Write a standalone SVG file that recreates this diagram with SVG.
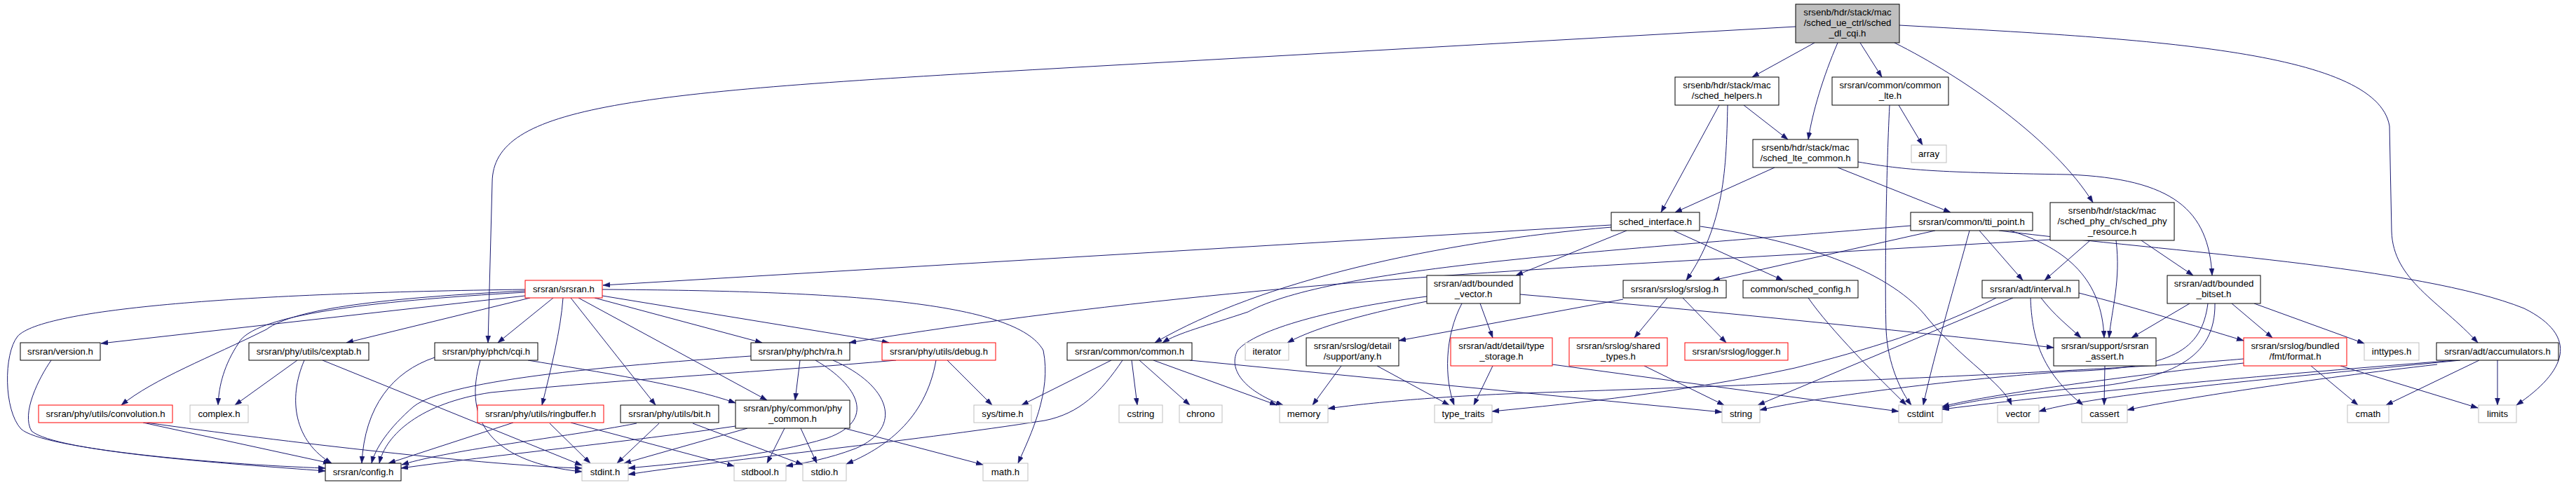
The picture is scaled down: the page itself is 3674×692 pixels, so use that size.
<svg xmlns="http://www.w3.org/2000/svg" width="3674" height="692" viewBox="0 0 3674 692">
<style>
.n rect{fill:#fff;stroke:#000;stroke-width:1}
.n.x rect{stroke:#bfbfbf}
.n.r rect{stroke:#ff0000}
.n.root rect{fill:#bfbfbf}
.n text{font-family:"Liberation Sans",Arial,sans-serif;font-size:13.2px;fill:#000;text-anchor:middle}
#edges path{fill:none;stroke:#191970;stroke-width:1;marker-end:url(#ah)}
</style>
<defs>
<marker id="ah" markerUnits="userSpaceOnUse" markerWidth="11" markerHeight="8" refX="10" refY="3.5" orient="auto">
<path d="M0,0 L10,3.5 L0,7 z" fill="#191970" stroke="#191970" stroke-width="0.5"/>
</marker>
</defs>
<rect width="3674" height="692" fill="#fff"/>
<g id="edges">
<path d="M2588,61 L2499,110"/>
<path d="M2621,61 C2600,110 2585,160 2579,199"/>
<path d="M2653,61 L2684,110"/>
<path d="M2702,61 C2800,110 2930,200 2985,289"/>
<path d="M2709,36 C3050,55 3390,70 3408,180 L3411,330 C3413,400 3480,430 3534,489"/>
<path d="M2561,38 L1500,98 C900,132 703,150 702,260 L696,489"/>
<path d="M2452,150 L2369,303"/>
<path d="M2464,150 C2462,240 2460,320 2405,400"/>
<path d="M2487,150 L2550,199"/>
<path d="M2695,150 C2690,250 2688,400 2690,470 C2692,520 2712,560 2726,578"/>
<path d="M2708,150 L2742,207"/>
<path d="M2531,239 L2389,303"/>
<path d="M2621,239 L2782,303"/>
<path d="M2650,231 C2720,243 2760,246 2950,249 C3100,255 3150,300 3155,393"/>
<path d="M2298,321 L860,407"/>
<path d="M2299,324 C2050,345 1800,400 1647,489"/>
<path d="M2320,329 L2162,393"/>
<path d="M2387,329 L2543,400"/>
<path d="M2425,323 C2580,345 2700,390 2750,455 C2800,515 2855,545 2869,578"/>
<path d="M2725,322 C2300,358 1900,380 1780,445 C1720,465 1680,475 1658,489"/>
<path d="M2760,329 L2443,400"/>
<path d="M2809,329 C2790,400 2760,500 2743,578"/>
<path d="M2823,329 L2885,400"/>
<path d="M2851,329 C3100,360 3450,380 3600,440 C3680,480 3660,530 3589,578"/>
<path d="M2867,329 C2950,355 2998,400 3001,482"/>
<path d="M2981,343 L2916,400"/>
<path d="M3018,343 C3025,400 3012,440 3008,482"/>
<path d="M3054,343 L3128,393"/>
<path d="M2924,342 L2300,378 C2000,395 1600,425 1211,489"/>
<path d="M749,413 C350,418 60,440 25,480 C5,505 5,585 30,612 C60,640 300,662 464,668"/>
<path d="M73,514 C55,540 30,590 45,615 C80,645 330,662 464,672"/>
<path d="M749,415 C550,425 420,440 380,470 C300,510 220,540 173,578"/>
<path d="M749,417 C520,430 360,450 340,490 C320,520 312,550 311,578"/>
<path d="M749,422 L144,490"/>
<path d="M756,425 L494,489"/>
<path d="M789,425 L710,489"/>
<path d="M803,425 C800,470 785,530 773,578"/>
<path d="M814,425 L935,578"/>
<path d="M825,425 L1094,571"/>
<path d="M848,425 L1087,489"/>
<path d="M859,422 L1268,489"/>
<path d="M859,413 C1200,415 1450,430 1488,500 C1500,560 1470,620 1452,661"/>
<path d="M424,514 L335,578"/>
<path d="M434,514 C410,570 420,630 473,661"/>
<path d="M460,514 L830,664"/>
<path d="M620,510 C560,530 520,580 516,661"/>
<path d="M685,514 C660,600 700,660 830,673"/>
<path d="M753,514 C850,530 980,550 1049,575"/>
<path d="M204,603 L471,661"/>
<path d="M209,603 C400,630 700,665 830,668"/>
<path d="M732,603 L554,661"/>
<path d="M784,604 L842,661"/>
<path d="M814,603 L1047,665"/>
<path d="M940,604 L880,661"/>
<path d="M988,604 L1145,663"/>
<path d="M908,604 C800,625 650,640 573,663"/>
<path d="M1066,611 L890,661"/>
<path d="M1119,611 L1094,661"/>
<path d="M1142,611 L1165,661"/>
<path d="M1204,611 L1402,663"/>
<path d="M1049,608 C900,630 700,650 572,668"/>
<path d="M1141,514 L1134,571"/>
<path d="M1071,508 C900,520 640,540 590,580 C555,610 535,640 530,661"/>
<path d="M1163,514 C1225,550 1250,600 1180,625 C1100,650 980,660 896,668"/>
<path d="M1188,514 C1270,550 1290,610 1220,640 C1180,655 1150,660 1121,665"/>
<path d="M1335,514 C1320,600 1260,640 1207,662"/>
<path d="M1351,514 L1415,578"/>
<path d="M1278,514 C1100,530 900,540 700,560 C600,575 550,620 541,661"/>
<path d="M1585,514 L1457,578"/>
<path d="M1601,514 C1570,560 1540,590 1490,600 C1300,630 1000,660 896,677"/>
<path d="M1614,514 L1622,578"/>
<path d="M1625,514 L1697,578"/>
<path d="M1645,514 L1821,578"/>
<path d="M1697,514 L2456,588"/>
<path d="M2035,423 C1900,440 1790,470 1765,500 C1750,530 1780,560 1830,578"/>
<path d="M2035,430 C1960,445 1880,465 1836,489"/>
<path d="M2085,433 C2060,480 2060,540 2074,578"/>
<path d="M2111,433 L2129,482"/>
<path d="M2168,420 C2400,440 2700,470 2929,496"/>
<path d="M2315,427 L1995,486"/>
<path d="M2378,425 L2331,482"/>
<path d="M2400,425 L2462,489"/>
<path d="M2579,425 C2610,470 2680,540 2719,578"/>
<path d="M2847,425 C2760,470 2660,500 2560,525 C2400,560 2250,575 2128,587"/>
<path d="M2871,425 L2507,578"/>
<path d="M2896,425 C2898,480 2910,530 2971,578"/>
<path d="M2911,425 C2930,450 2950,465 2968,482"/>
<path d="M2965,418 C3050,440 3130,465 3200,486"/>
<path d="M3002,522 L3001,578"/>
<path d="M3123,433 L3040,482"/>
<path d="M3183,433 L3241,482"/>
<path d="M3215,433 L3372,490"/>
<path d="M3149,433 C3140,500 3100,525 2950,530 C2800,540 2600,565 2510,585"/>
<path d="M3159,433 C3160,510 3100,545 2950,555 C2850,565 2800,575 2770,582"/>
<path d="M3200,512 C3000,530 2500,550 2200,560 C2050,565 1950,575 1894,583"/>
<path d="M3200,518 C3050,535 2850,560 2770,580"/>
<path d="M3296,522 L3363,578"/>
<path d="M3338,522 L3534,582"/>
<path d="M3476,520 C3300,540 3100,570 3034,585"/>
<path d="M3536,514 L3403,578"/>
<path d="M3562,514 L3562,578"/>
<path d="M3502,514 C3300,530 3000,555 2770,584"/>
<path d="M3509,514 C3300,535 3000,560 2908,587"/>
<path d="M2345,522 L2459,578"/>
<path d="M2129,522 L2102,578"/>
<path d="M2214,520 L2708,587"/>
<path d="M1913,522 L1872,578"/>
<path d="M1964,522 L2067,578"/>
</g>
<g id="n_root" class="n root"><rect x="2561" y="6" width="148" height="55"/><text x="2635" y="22">srsenb/hdr/stack/mac</text><text x="2635" y="37">/sched_ue_ctrl/sched</text><text x="2635" y="51.5">_dl_cqi.h</text></g>
<g id="n_helpers" class="n"><rect x="2389" y="110" width="148" height="40"/><text x="2463" y="125.5">srsenb/hdr/stack/mac</text><text x="2463" y="141">/sched_helpers.h</text></g>
<g id="n_common_lte" class="n"><rect x="2613" y="110" width="166" height="40"/><text x="2696" y="125.5">srsran/common/common</text><text x="2696" y="141">_lte.h</text></g>
<g id="n_lte_common" class="n"><rect x="2500" y="199" width="150" height="40"/><text x="2575" y="214.5">srsenb/hdr/stack/mac</text><text x="2575" y="230">/sched_lte_common.h</text></g>
<g id="n_array" class="n x"><rect x="2726" y="207" width="50" height="25"/><text x="2751" y="224">array</text></g>
<g id="n_sched_interface" class="n"><rect x="2298" y="303" width="126" height="26"/><text x="2361" y="320.5">sched_interface.h</text></g>
<g id="n_tti_point" class="n"><rect x="2725" y="303" width="174" height="26"/><text x="2812" y="320.5">srsran/common/tti_point.h</text></g>
<g id="n_phy_resource" class="n"><rect x="2924" y="289" width="177" height="54"/><text x="3012.5" y="305">srsenb/hdr/stack/mac</text><text x="3012.5" y="320">/sched_phy_ch/sched_phy</text><text x="3012.5" y="334.5">_resource.h</text></g>
<g id="n_srsran" class="n r"><rect x="749" y="400" width="110" height="25"/><text x="804" y="417">srsran/srsran.h</text></g>
<g id="n_bounded_vector" class="n"><rect x="2035" y="393" width="133" height="40"/><text x="2101.5" y="408.5">srsran/adt/bounded</text><text x="2101.5" y="424">_vector.h</text></g>
<g id="n_srslog" class="n"><rect x="2315" y="400" width="147" height="25"/><text x="2388.5" y="417">srsran/srslog/srslog.h</text></g>
<g id="n_sched_config" class="n"><rect x="2486" y="400" width="164" height="25"/><text x="2568" y="417">common/sched_config.h</text></g>
<g id="n_interval" class="n"><rect x="2827" y="400" width="138" height="25"/><text x="2896" y="417">srsran/adt/interval.h</text></g>
<g id="n_bounded_bitset" class="n"><rect x="3091" y="393" width="133" height="40"/><text x="3157.5" y="408.5">srsran/adt/bounded</text><text x="3157.5" y="424">_bitset.h</text></g>
<g id="n_version" class="n"><rect x="29" y="489" width="114" height="25"/><text x="86" y="506">srsran/version.h</text></g>
<g id="n_cexptab" class="n"><rect x="355" y="489" width="171" height="25"/><text x="440.5" y="506">srsran/phy/utils/cexptab.h</text></g>
<g id="n_cqi" class="n"><rect x="620" y="489" width="147" height="25"/><text x="693.5" y="506">srsran/phy/phch/cqi.h</text></g>
<g id="n_ra" class="n"><rect x="1071" y="489" width="141" height="25"/><text x="1141.5" y="506">srsran/phy/phch/ra.h</text></g>
<g id="n_debug" class="n r"><rect x="1258" y="489" width="162" height="25"/><text x="1339" y="506">srsran/phy/utils/debug.h</text></g>
<g id="n_common" class="n"><rect x="1522" y="489" width="178" height="25"/><text x="1611" y="506">srsran/common/common.h</text></g>
<g id="n_iterator" class="n x"><rect x="1776" y="489" width="62" height="25"/><text x="1807" y="506">iterator</text></g>
<g id="n_any" class="n"><rect x="1863" y="482" width="132" height="40"/><text x="1929" y="497.5">srsran/srslog/detail</text><text x="1929" y="513">/support/any.h</text></g>
<g id="n_type_storage" class="n r"><rect x="2069" y="482" width="145" height="40"/><text x="2141.5" y="497.5">srsran/adt/detail/type</text><text x="2141.5" y="513">_storage.h</text></g>
<g id="n_shared_types" class="n r"><rect x="2238" y="482" width="140" height="40"/><text x="2308" y="497.5">srsran/srslog/shared</text><text x="2308" y="513">_types.h</text></g>
<g id="n_logger" class="n r"><rect x="2403" y="489" width="147" height="25"/><text x="2476.5" y="506">srsran/srslog/logger.h</text></g>
<g id="n_srsran_assert" class="n"><rect x="2929" y="482" width="146" height="40"/><text x="3002" y="497.5">srsran/support/srsran</text><text x="3002" y="513">_assert.h</text></g>
<g id="n_format" class="n r"><rect x="3200" y="482" width="147" height="40"/><text x="3273.5" y="497.5">srsran/srslog/bundled</text><text x="3273.5" y="513">/fmt/format.h</text></g>
<g id="n_inttypes" class="n x"><rect x="3372" y="489" width="78" height="25"/><text x="3411" y="506">inttypes.h</text></g>
<g id="n_accumulators" class="n"><rect x="3475" y="489" width="174" height="25"/><text x="3562" y="506">srsran/adt/accumulators.h</text></g>
<g id="n_convolution" class="n r"><rect x="55" y="578" width="191" height="25"/><text x="150.5" y="595">srsran/phy/utils/convolution.h</text></g>
<g id="n_complex" class="n x"><rect x="271" y="578" width="83" height="25"/><text x="312.5" y="595">complex.h</text></g>
<g id="n_ringbuffer" class="n r"><rect x="681" y="578" width="180" height="25"/><text x="771" y="595">srsran/phy/utils/ringbuffer.h</text></g>
<g id="n_bit" class="n"><rect x="885" y="578" width="140" height="25"/><text x="955" y="595">srsran/phy/utils/bit.h</text></g>
<g id="n_phy_common" class="n"><rect x="1049" y="571" width="163" height="40"/><text x="1130.5" y="586.5">srsran/phy/common/phy</text><text x="1130.5" y="602">_common.h</text></g>
<g id="n_systime" class="n x"><rect x="1389" y="578" width="82" height="25"/><text x="1430" y="595">sys/time.h</text></g>
<g id="n_cstring" class="n x"><rect x="1596" y="578" width="62" height="25"/><text x="1627" y="595">cstring</text></g>
<g id="n_chrono" class="n x"><rect x="1682" y="578" width="61" height="25"/><text x="1712.5" y="595">chrono</text></g>
<g id="n_memory" class="n x"><rect x="1825" y="578" width="69" height="25"/><text x="1859.5" y="595">memory</text></g>
<g id="n_type_traits" class="n x"><rect x="2046" y="578" width="82" height="25"/><text x="2087" y="595">type_traits</text></g>
<g id="n_string" class="n x"><rect x="2456" y="578" width="54" height="25"/><text x="2483" y="595">string</text></g>
<g id="n_cstdint" class="n x"><rect x="2708" y="578" width="62" height="25"/><text x="2739" y="595">cstdint</text></g>
<g id="n_vector" class="n x"><rect x="2849" y="578" width="59" height="25"/><text x="2878.5" y="595">vector</text></g>
<g id="n_cassert" class="n x"><rect x="2969" y="578" width="65" height="25"/><text x="3001.5" y="595">cassert</text></g>
<g id="n_cmath" class="n x"><rect x="3348" y="578" width="59" height="25"/><text x="3377.5" y="595">cmath</text></g>
<g id="n_limits" class="n x"><rect x="3535" y="578" width="54" height="25"/><text x="3562" y="595">limits</text></g>
<g id="n_config" class="n"><rect x="464" y="661" width="108" height="25"/><text x="518" y="678">srsran/config.h</text></g>
<g id="n_stdint" class="n x"><rect x="830" y="661" width="66" height="25"/><text x="863" y="678">stdint.h</text></g>
<g id="n_stdbool" class="n x"><rect x="1047" y="661" width="74" height="25"/><text x="1084" y="678">stdbool.h</text></g>
<g id="n_stdio" class="n x"><rect x="1145" y="661" width="62" height="25"/><text x="1176" y="678">stdio.h</text></g>
<g id="n_math" class="n x"><rect x="1402" y="661" width="64" height="25"/><text x="1434" y="678">math.h</text></g>
</svg>
